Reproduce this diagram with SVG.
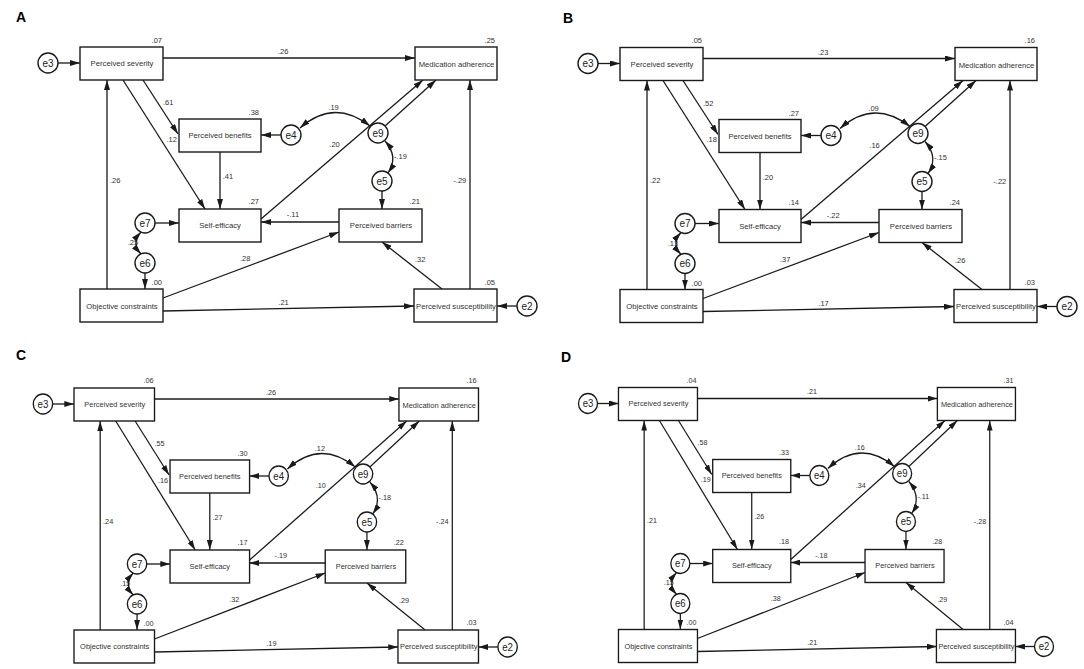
<svg xmlns="http://www.w3.org/2000/svg" width="1084" height="669" viewBox="0 0 1084 669">
<style>
.box{fill:#fff;stroke:#1a1a1a;stroke-width:1.4}
.err{fill:#fff;stroke:#1a1a1a;stroke-width:1.4}
.nl{font-family:"Liberation Sans",Arial,sans-serif;font-size:7.7px;fill:#333;text-anchor:middle}
.el{font-family:"Liberation Sans",Arial,sans-serif;font-size:10px;fill:#222;text-anchor:middle}
.num{font-family:"Liberation Sans",Arial,sans-serif;font-size:7.5px;fill:#333}
.r2{font-family:"Liberation Sans",Arial,sans-serif;font-size:7.5px;fill:#333;text-anchor:end}
.ln{fill:none;stroke:#1a1a1a;stroke-width:1.3;marker-end:url(#ah)}
.bi{fill:none;stroke:#1a1a1a;stroke-width:1.3;marker-start:url(#ah);marker-end:url(#ah)}
.pl{font-family:"Liberation Sans",Arial,sans-serif;font-weight:bold;font-size:14px;fill:#000}
</style>
<defs>
<marker id="ah" viewBox="0 0 10 6" refX="10" refY="3" markerWidth="10" markerHeight="6" markerUnits="userSpaceOnUse" orient="auto-start-reverse"><path d="M0,0 L10,3 L0,6 z" fill="#1a1a1a"/></marker>
</defs>
<rect width="1084" height="669" fill="#fff"/>
<text class="pl" x="16" y="22">A</text>
<text class="pl" x="563" y="23">B</text>
<text class="pl" x="16" y="360">C</text>
<text class="pl" x="561" y="362">D</text>

<!-- Panel A -->
<g id="panelA">
<g id="A-labels">
<text class="num" x="278" y="54">.26</text>
<text class="num" x="163" y="105">.61</text>
<text class="num" x="166.5" y="141.7">.12</text>
<text class="num" x="222.7" y="179">.41</text>
<text class="num" x="286.7" y="217.3">-.11</text>
<text class="num" x="329.3" y="147.3">.20</text>
<text class="num" x="328.3" y="110">.19</text>
<text class="num" x="394" y="159">-.19</text>
<text class="num" x="127.7" y="245">.25</text>
<text class="num" x="110" y="182.7">.26</text>
<text class="num" x="240" y="261">.28</text>
<text class="num" x="278.3" y="305">.21</text>
<text class="num" x="415" y="262">.32</text>
<text class="num" x="453.3" y="183.3">-.29</text>
</g>
<g id="A-connectors">
<path class="ln" d="M58,63 H80"/>
<path class="ln" d="M163,58 H415"/>
<path class="ln" d="M143,80 L178,134"/>
<path class="ln" d="M123,80 L205,209"/>
<path class="ln" d="M220,152 V209"/>
<path class="ln" d="M339,222 H261"/>
<path class="ln" d="M261,219 L423,80"/>
<path class="ln" d="M385,126 L436,80"/>
<path class="ln" d="M281,135 H261"/>
<path class="bi" d="M300,128 Q334,98 370,126"/>
<path class="bi" d="M385,141 Q399,157 388,173"/>
<path class="ln" d="M382,191 V209"/>
<path class="ln" d="M155,223 H179"/>
<path class="bi" d="M141,232 Q131,243 141,254"/>
<path class="ln" d="M145,273 V289"/>
<path class="ln" d="M107,289 V80"/>
<path class="ln" d="M163,298 L339,232"/>
<path class="ln" d="M163,311 L414,306"/>
<path class="ln" d="M442,289 L382,242"/>
<path class="ln" d="M470,289 V80"/>
<path class="ln" d="M517,306 H497"/>
</g>
<g id="A-sev"><rect class="box" x="80" y="47" width="83" height="33"/><text class="nl" x="122" y="66">Perceived severity</text><text class="r2" x="162" y="42.5">.07</text></g>
<g id="A-med"><rect class="box" x="415" y="47" width="82" height="33"/><text class="nl" x="456.5" y="67">Medication adherence</text><text class="r2" x="495" y="42.5">.25</text></g>
<g id="A-ben"><rect class="box" x="179" y="119" width="82" height="33"/><text class="nl" x="220" y="138">Perceived benefits</text><text class="r2" x="259" y="115">.38</text></g>
<g id="A-self"><rect class="box" x="179" y="209" width="82" height="33"/><text class="nl" x="220" y="228">Self-efficacy</text><text class="r2" x="259" y="204">.27</text></g>
<g id="A-bar"><rect class="box" x="339" y="209" width="83" height="33"/><text class="nl" x="381" y="228">Perceived barriers</text><text class="r2" x="420" y="204">.21</text></g>
<g id="A-obj"><rect class="box" x="80" y="289" width="83" height="33"/><text class="nl" x="122" y="308.5">Objective constraints</text><text class="r2" x="162" y="285">.00</text></g>
<g id="A-sus"><rect class="box" x="414" y="289" width="83" height="33"/><text class="nl" x="456" y="308.5">Perceived susceptibility</text><text class="r2" x="495" y="284.5">.05</text></g>
<g id="A-e3"><circle class="err" cx="48" cy="63" r="10"/><text class="el" x="48" y="66.8">e3</text></g>
<g id="A-e4"><circle class="err" cx="291" cy="135" r="10"/><text class="el" x="291" y="138.8">e4</text></g>
<g id="A-e9"><circle class="err" cx="378" cy="133" r="10"/><text class="el" x="378" y="136.8">e9</text></g>
<g id="A-e5"><circle class="err" cx="382" cy="181" r="10"/><text class="el" x="382" y="184.8">e5</text></g>
<g id="A-e7"><circle class="err" cx="145" cy="223" r="10"/><text class="el" x="145" y="226.8">e7</text></g>
<g id="A-e6"><circle class="err" cx="145" cy="263" r="10"/><text class="el" x="145" y="266.8">e6</text></g>
<g id="A-e2"><circle class="err" cx="527" cy="306" r="10"/><text class="el" x="527" y="309.8">e2</text></g>
</g>

<!-- Panel B -->
<g id="panelB" transform="translate(540,0.5)">
<g id="B-labels">
<text class="num" x="278" y="54">.23</text>
<text class="num" x="163" y="105">.52</text>
<text class="num" x="166.5" y="141.7">.18</text>
<text class="num" x="222.7" y="179">.20</text>
<text class="num" x="286.7" y="217.3">-.22</text>
<text class="num" x="329.3" y="147.3">.16</text>
<text class="num" x="328.3" y="110">.09</text>
<text class="num" x="394" y="159">-.15</text>
<text class="num" x="127.7" y="245">.13</text>
<text class="num" x="110" y="182.7">.22</text>
<text class="num" x="240" y="261">.37</text>
<text class="num" x="278.3" y="305">.17</text>
<text class="num" x="415" y="262">.26</text>
<text class="num" x="453.3" y="183.3">-.22</text>
</g>
<g id="B-connectors">
<path class="ln" d="M58,63 H80"/>
<path class="ln" d="M163,58 H415"/>
<path class="ln" d="M143,80 L178,134"/>
<path class="ln" d="M123,80 L205,209"/>
<path class="ln" d="M220,152 V209"/>
<path class="ln" d="M339,222 H261"/>
<path class="ln" d="M261,219 L423,80"/>
<path class="ln" d="M385,126 L436,80"/>
<path class="ln" d="M281,135 H261"/>
<path class="bi" d="M300,128 Q334,98 370,126"/>
<path class="bi" d="M385,141 Q399,157 388,173"/>
<path class="ln" d="M382,191 V209"/>
<path class="ln" d="M155,223 H179"/>
<path class="bi" d="M141,232 Q131,243 141,254"/>
<path class="ln" d="M145,273 V289"/>
<path class="ln" d="M107,289 V80"/>
<path class="ln" d="M163,298 L339,232"/>
<path class="ln" d="M163,311 L414,306"/>
<path class="ln" d="M442,289 L382,242"/>
<path class="ln" d="M470,289 V80"/>
<path class="ln" d="M517,306 H497"/>
</g>
<g id="B-sev"><rect class="box" x="80" y="47" width="83" height="33"/><text class="nl" x="122" y="66">Perceived severity</text><text class="r2" x="162" y="42.5">.05</text></g>
<g id="B-med"><rect class="box" x="415" y="47" width="82" height="33"/><text class="nl" x="456.5" y="67">Medication adherence</text><text class="r2" x="495" y="42.5">.16</text></g>
<g id="B-ben"><rect class="box" x="179" y="119" width="82" height="33"/><text class="nl" x="220" y="138">Perceived benefits</text><text class="r2" x="259" y="115">.27</text></g>
<g id="B-self"><rect class="box" x="179" y="209" width="82" height="33"/><text class="nl" x="220" y="228">Self-efficacy</text><text class="r2" x="259" y="204">.14</text></g>
<g id="B-bar"><rect class="box" x="339" y="209" width="83" height="33"/><text class="nl" x="381" y="228">Perceived barriers</text><text class="r2" x="420" y="204">.24</text></g>
<g id="B-obj"><rect class="box" x="80" y="289" width="83" height="33"/><text class="nl" x="122" y="308.5">Objective constraints</text><text class="r2" x="162" y="285">.00</text></g>
<g id="B-sus"><rect class="box" x="414" y="289" width="83" height="33"/><text class="nl" x="456" y="308.5">Perceived susceptibility</text><text class="r2" x="495" y="284.5">.03</text></g>
<g id="B-e3"><circle class="err" cx="48" cy="63" r="10"/><text class="el" x="48" y="66.8">e3</text></g>
<g id="B-e4"><circle class="err" cx="291" cy="135" r="10"/><text class="el" x="291" y="138.8">e4</text></g>
<g id="B-e9"><circle class="err" cx="378" cy="133" r="10"/><text class="el" x="378" y="136.8">e9</text></g>
<g id="B-e5"><circle class="err" cx="382" cy="181" r="10"/><text class="el" x="382" y="184.8">e5</text></g>
<g id="B-e7"><circle class="err" cx="145" cy="223" r="10"/><text class="el" x="145" y="226.8">e7</text></g>
<g id="B-e6"><circle class="err" cx="145" cy="263" r="10"/><text class="el" x="145" y="266.8">e6</text></g>
<g id="B-e2"><circle class="err" cx="527" cy="306" r="10"/><text class="el" x="527" y="309.8">e2</text></g>
</g>

<!-- Panel C -->
<g id="panelC" transform="translate(-3.6,341) scale(0.97,1)">
<g id="C-labels">
<text class="num" x="278" y="54">.26</text>
<text class="num" x="163" y="105">.55</text>
<text class="num" x="166.5" y="141.7">.16</text>
<text class="num" x="222.7" y="179">.27</text>
<text class="num" x="286.7" y="217.3">-.19</text>
<text class="num" x="329.3" y="147.3">.10</text>
<text class="num" x="328.3" y="110">.12</text>
<text class="num" x="394" y="159">-.18</text>
<text class="num" x="127.7" y="245">.15</text>
<text class="num" x="110" y="182.7">.24</text>
<text class="num" x="240" y="261">.32</text>
<text class="num" x="278.3" y="305">.19</text>
<text class="num" x="415" y="262">.29</text>
<text class="num" x="453.3" y="183.3">-.24</text>
</g>
<g id="C-connectors">
<path class="ln" d="M58,63 H80"/>
<path class="ln" d="M163,58 H415"/>
<path class="ln" d="M143,80 L178,134"/>
<path class="ln" d="M123,80 L205,209"/>
<path class="ln" d="M220,152 V209"/>
<path class="ln" d="M339,222 H261"/>
<path class="ln" d="M261,219 L423,80"/>
<path class="ln" d="M385,126 L436,80"/>
<path class="ln" d="M281,135 H261"/>
<path class="bi" d="M300,128 Q334,98 370,126"/>
<path class="bi" d="M385,141 Q399,157 388,173"/>
<path class="ln" d="M382,191 V209"/>
<path class="ln" d="M155,223 H179"/>
<path class="bi" d="M141,232 Q131,243 141,254"/>
<path class="ln" d="M145,273 V289"/>
<path class="ln" d="M107,289 V80"/>
<path class="ln" d="M163,298 L339,232"/>
<path class="ln" d="M163,311 L414,306"/>
<path class="ln" d="M442,289 L382,242"/>
<path class="ln" d="M470,289 V80"/>
<path class="ln" d="M517,306 H497"/>
</g>
<g id="C-sev"><rect class="box" x="80" y="47" width="83" height="33"/><text class="nl" x="122" y="66">Perceived severity</text><text class="r2" x="162" y="42.5">.06</text></g>
<g id="C-med"><rect class="box" x="415" y="47" width="82" height="33"/><text class="nl" x="456.5" y="67">Medication adherence</text><text class="r2" x="495" y="42.5">.16</text></g>
<g id="C-ben"><rect class="box" x="179" y="119" width="82" height="33"/><text class="nl" x="220" y="138">Perceived benefits</text><text class="r2" x="259" y="115">.30</text></g>
<g id="C-self"><rect class="box" x="179" y="209" width="82" height="33"/><text class="nl" x="220" y="228">Self-efficacy</text><text class="r2" x="259" y="204">.17</text></g>
<g id="C-bar"><rect class="box" x="339" y="209" width="83" height="33"/><text class="nl" x="381" y="228">Perceived barriers</text><text class="r2" x="420" y="204">.22</text></g>
<g id="C-obj"><rect class="box" x="80" y="289" width="83" height="33"/><text class="nl" x="122" y="308.5">Objective constraints</text><text class="r2" x="162" y="285">.00</text></g>
<g id="C-sus"><rect class="box" x="414" y="289" width="83" height="33"/><text class="nl" x="456" y="308.5">Perceived susceptibility</text><text class="r2" x="495" y="284.5">.03</text></g>
<g id="C-e3"><circle class="err" cx="48" cy="63" r="10"/><text class="el" x="48" y="66.8">e3</text></g>
<g id="C-e4"><circle class="err" cx="291" cy="135" r="10"/><text class="el" x="291" y="138.8">e4</text></g>
<g id="C-e9"><circle class="err" cx="378" cy="133" r="10"/><text class="el" x="378" y="136.8">e9</text></g>
<g id="C-e5"><circle class="err" cx="382" cy="181" r="10"/><text class="el" x="382" y="184.8">e5</text></g>
<g id="C-e7"><circle class="err" cx="145" cy="223" r="10"/><text class="el" x="145" y="226.8">e7</text></g>
<g id="C-e6"><circle class="err" cx="145" cy="263" r="10"/><text class="el" x="145" y="266.8">e6</text></g>
<g id="C-e2"><circle class="err" cx="527" cy="306" r="10"/><text class="el" x="527" y="309.8">e2</text></g>
</g>

<!-- Panel D -->
<g id="panelD" transform="translate(542.3,340.5) scale(0.952,1)">
<g id="D-labels">
<text class="num" x="278" y="54">.21</text>
<text class="num" x="163" y="105">.58</text>
<text class="num" x="166.5" y="141.7">.19</text>
<text class="num" x="222.7" y="179">.26</text>
<text class="num" x="286.7" y="217.3">-.18</text>
<text class="num" x="329.3" y="147.3">.34</text>
<text class="num" x="328.3" y="110">.16</text>
<text class="num" x="394" y="159">-.11</text>
<text class="num" x="127.7" y="245">.15</text>
<text class="num" x="110" y="182.7">.21</text>
<text class="num" x="240" y="261">.38</text>
<text class="num" x="278.3" y="305">.21</text>
<text class="num" x="415" y="262">.29</text>
<text class="num" x="453.3" y="183.3">-.28</text>
</g>
<g id="D-connectors">
<path class="ln" d="M58,63 H80"/>
<path class="ln" d="M163,58 H415"/>
<path class="ln" d="M143,80 L178,134"/>
<path class="ln" d="M123,80 L205,209"/>
<path class="ln" d="M220,152 V209"/>
<path class="ln" d="M339,222 H261"/>
<path class="ln" d="M261,219 L423,80"/>
<path class="ln" d="M385,126 L436,80"/>
<path class="ln" d="M281,135 H261"/>
<path class="bi" d="M300,128 Q334,98 370,126"/>
<path class="bi" d="M385,141 Q399,157 388,173"/>
<path class="ln" d="M382,191 V209"/>
<path class="ln" d="M155,223 H179"/>
<path class="bi" d="M141,232 Q131,243 141,254"/>
<path class="ln" d="M145,273 V289"/>
<path class="ln" d="M107,289 V80"/>
<path class="ln" d="M163,298 L339,232"/>
<path class="ln" d="M163,311 L414,306"/>
<path class="ln" d="M442,289 L382,242"/>
<path class="ln" d="M470,289 V80"/>
<path class="ln" d="M517,306 H497"/>
</g>
<g id="D-sev"><rect class="box" x="80" y="47" width="83" height="33"/><text class="nl" x="122" y="66">Perceived severity</text><text class="r2" x="162" y="42.5">.04</text></g>
<g id="D-med"><rect class="box" x="415" y="47" width="82" height="33"/><text class="nl" x="456.5" y="67">Medication adherence</text><text class="r2" x="495" y="42.5">.31</text></g>
<g id="D-ben"><rect class="box" x="179" y="119" width="82" height="33"/><text class="nl" x="220" y="138">Perceived benefits</text><text class="r2" x="259" y="115">.33</text></g>
<g id="D-self"><rect class="box" x="179" y="209" width="82" height="33"/><text class="nl" x="220" y="228">Self-efficacy</text><text class="r2" x="259" y="204">.18</text></g>
<g id="D-bar"><rect class="box" x="339" y="209" width="83" height="33"/><text class="nl" x="381" y="228">Perceived barriers</text><text class="r2" x="420" y="204">.28</text></g>
<g id="D-obj"><rect class="box" x="80" y="289" width="83" height="33"/><text class="nl" x="122" y="308.5">Objective constraints</text><text class="r2" x="162" y="285">.00</text></g>
<g id="D-sus"><rect class="box" x="414" y="289" width="83" height="33"/><text class="nl" x="456" y="308.5">Perceived susceptibility</text><text class="r2" x="495" y="284.5">.04</text></g>
<g id="D-e3"><circle class="err" cx="48" cy="63" r="10"/><text class="el" x="48" y="66.8">e3</text></g>
<g id="D-e4"><circle class="err" cx="291" cy="135" r="10"/><text class="el" x="291" y="138.8">e4</text></g>
<g id="D-e9"><circle class="err" cx="378" cy="133" r="10"/><text class="el" x="378" y="136.8">e9</text></g>
<g id="D-e5"><circle class="err" cx="382" cy="181" r="10"/><text class="el" x="382" y="184.8">e5</text></g>
<g id="D-e7"><circle class="err" cx="145" cy="223" r="10"/><text class="el" x="145" y="226.8">e7</text></g>
<g id="D-e6"><circle class="err" cx="145" cy="263" r="10"/><text class="el" x="145" y="266.8">e6</text></g>
<g id="D-e2"><circle class="err" cx="527" cy="306" r="10"/><text class="el" x="527" y="309.8">e2</text></g>
</g>
</svg>
